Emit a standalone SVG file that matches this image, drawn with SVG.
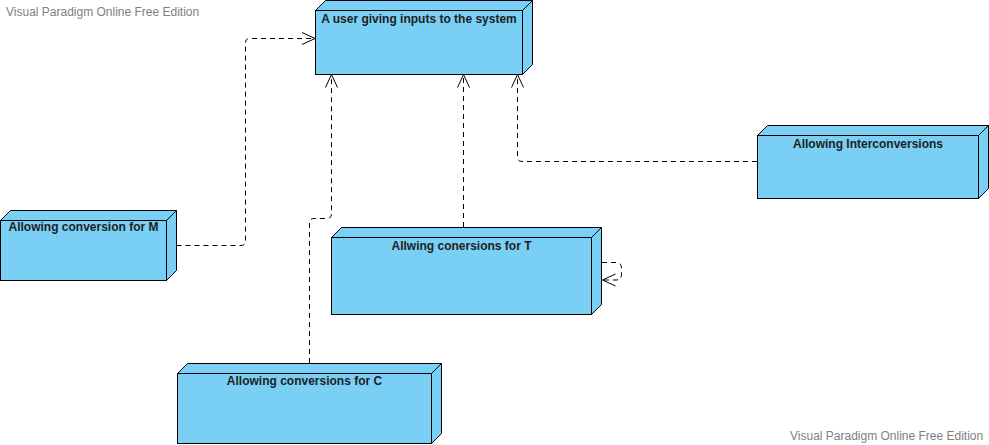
<svg xmlns="http://www.w3.org/2000/svg" width="989" height="445" viewBox="0 0 989 445">
<style>
.box{fill:#7ACFF5;stroke:#000;stroke-width:1;stroke-linejoin:miter}
.lbl{font-family:"Liberation Sans",Arial,sans-serif;font-size:12px;font-weight:bold;fill:#1e1e1e;text-anchor:middle}
.wm{font-family:"Liberation Sans",Arial,sans-serif;font-size:12px;fill:#808080}
.dep{fill:none;stroke:#000;stroke-width:1;stroke-dasharray:5 4}
</style>
<defs>
<marker id="open" markerUnits="userSpaceOnUse" markerWidth="16" markerHeight="14" refX="14" refY="7" orient="auto" overflow="visible">
<path d="M1,1 L14,7 L1,13" fill="none" stroke="#000" stroke-width="1" stroke-dasharray="none"/>
</marker>
</defs>
<rect width="989" height="445" fill="#fff"/>
<text class="wm" x="6" y="16">Visual Paradigm Online Free Edition</text>
<text class="wm" x="790" y="440">Visual Paradigm Online Free Edition</text>

<g id="connectors">
<path class="dep" d="M176.5,245.5 H241 Q245.5,245.5 245.5,241 V42.5 Q245.5,38.5 249.5,38.5 H315" marker-end="url(#open)"/>
<path class="dep" d="M309.5,363 V223 Q309.5,218.5 314,218.5 H327 Q331.5,218.5 331.5,214 V74.5" marker-end="url(#open)"/>
<path class="dep" d="M463.5,227 V74.5" marker-end="url(#open)"/>
<path class="dep" d="M757,161.5 H522 Q517.5,161.5 517.5,157 V74.5" marker-end="url(#open)"/>
<path class="dep" d="M602,262.5 H616 Q621.5,262.5 621.5,268 V274.5 Q621.5,280 616,280 H602.5" marker-end="url(#open)"/>
</g>

<g id="node-system">
<polygon class="box" points="315.5,10.5 325.5,0.5 532.5,0.5 522.5,10.5"/>
<polygon class="box" points="522.5,10.5 532.5,0.5 532.5,64.5 522.5,74.5"/>
<rect class="box" x="315.5" y="10.5" width="207" height="64"/>
<text class="lbl" x="419" y="23">A user giving inputs to the system</text>
</g>

<g id="node-m">
<polygon class="box" points="0.5,220.5 10.5,210.5 176.5,210.5 166.5,220.5"/>
<polygon class="box" points="166.5,220.5 176.5,210.5 176.5,270.5 166.5,280.5"/>
<rect class="box" x="0.5" y="220.5" width="166" height="60"/>
<text class="lbl" x="83.5" y="231">Allowing conversion for M</text>
</g>

<g id="node-t">
<polygon class="box" points="331.5,237.5 341.5,227.5 601.5,227.5 591.5,237.5"/>
<polygon class="box" points="591.5,237.5 601.5,227.5 601.5,304.5 591.5,314.5"/>
<rect class="box" x="331.5" y="237.5" width="260" height="77"/>
<text class="lbl" x="461.5" y="250">Allwing conersions for T</text>
</g>

<g id="node-inter">
<polygon class="box" points="757.5,135.5 767.5,125.5 988.5,125.5 978.5,135.5"/>
<polygon class="box" points="978.5,135.5 988.5,125.5 988.5,188.5 978.5,198.5"/>
<rect class="box" x="757.5" y="135.5" width="221" height="63"/>
<text class="lbl" x="868" y="148">Allowing Interconversions</text>
</g>

<g id="node-c">
<polygon class="box" points="177.5,373.5 187.5,363.5 441.5,363.5 431.5,373.5"/>
<polygon class="box" points="431.5,373.5 441.5,363.5 441.5,433.5 431.5,443.5"/>
<rect class="box" x="177.5" y="373.5" width="254" height="70"/>
<text class="lbl" x="304.5" y="385">Allowing conversions for C</text>
</g>
</svg>
